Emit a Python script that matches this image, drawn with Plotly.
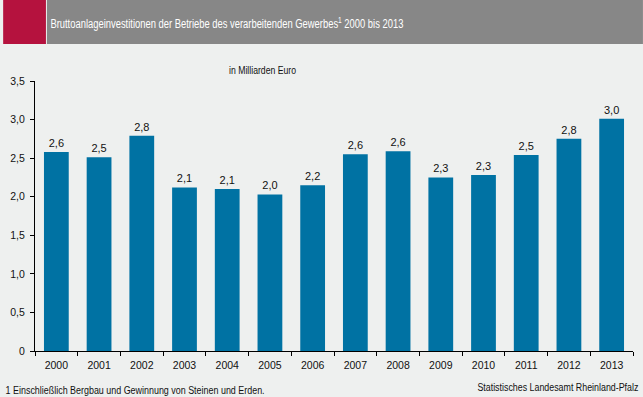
import plotly.graph_objects as go

years = ["2000", "2001", "2002", "2003", "2004", "2005", "2006",
         "2007", "2008", "2009", "2010", "2011", "2012", "2013"]
values = [2.58, 2.51, 2.79, 2.12, 2.10, 2.03, 2.15,
          2.55, 2.59, 2.25, 2.28, 2.54, 2.75, 3.01]
value_labels = ["2,6", "2,5", "2,8", "2,1", "2,1", "2,0", "2,2",
                "2,6", "2,6", "2,3", "2,3", "2,5", "2,8", "3,0"]
y_ticks = [0, 0.5, 1.0, 1.5, 2.0, 2.5, 3.0, 3.5]
y_ticktext = ["0", "0,5", "1,0", "1,5", "2,0", "2,5", "3,0", "3,5"]

W, H = 643, 397
L, R, T, B = 32, 10, 81, 46
pw, ph = W - L - R, H - T - B

def px(x):
    return (x - L) / pw

def py(y):
    return (H - B - y) / ph

reg = "Liberation Sans, Arial, sans-serif"

fig = go.Figure(go.Bar(
    x=years, y=values, text=value_labels, textposition="outside",
    textfont=dict(family=reg, size=11, color="#111111"),
    marker=dict(color="#0072a3", line=dict(width=0)),
    width=0.58, cliponaxis=False,
))

fig.update_layout(
    width=W, height=H,
    margin=dict(l=L, r=R, t=T, b=B),
    paper_bgcolor="#eef0ef", plot_bgcolor="#eef0ef",
    showlegend=False,
    xaxis=dict(type="category", showline=True, linecolor="black", linewidth=1,
               ticks="outside", ticklen=4, tickcolor="black", tickson="boundaries",
               ticklabelstandoff=4,
               tickfont=dict(family=reg, size=10.5, color="#111111"),
               showgrid=False, zeroline=False),
    yaxis=dict(range=[0, 3.5], tickvals=y_ticks, ticktext=y_ticktext,
               showline=True, linecolor="black", linewidth=1,
               ticks="outside", ticklen=4, tickcolor="black",
               ticklabelstandoff=3,
               tickfont=dict(family=reg, size=10.5, color="#111111"),
               showgrid=False, zeroline=False),
    shapes=[
        dict(type="rect", xref="paper", yref="paper", x0=px(0), x1=px(43),
             y0=py(44), y1=py(0), fillcolor="#b5123e", line=dict(width=0), layer="below"),
        dict(type="rect", xref="paper", yref="paper", x0=px(44), x1=px(643),
             y0=py(44), y1=py(0), fillcolor="#878787", line=dict(width=0), layer="below"),
    ],
    annotations=[
        dict(text="Bruttoanlageinvestitionen der Betriebe des verarbeitenden Gewerbes<sup>1</sup> 2000 bis 2013",
             xref="paper", yref="paper", x=px(224.5), y=py(23), xanchor="center", yanchor="middle",
             showarrow=False, font=dict(family=reg, size=12.5, color="white")),
        dict(text="in Milliarden Euro", xref="paper", yref="paper", x=px(261), y=py(70),
             xanchor="center", yanchor="middle", showarrow=False,
             font=dict(family=reg, size=10.5, color="#111111")),
        dict(text="1 Einschließlich Bergbau und Gewinnung von Steinen und Erden.",
             xref="paper", yref="paper", x=px(132.5), y=py(390), xanchor="center", yanchor="middle",
             showarrow=False, font=dict(family=reg, size=10, color="#111111")),
        dict(text="Statistisches Landesamt Rheinland-Pfalz",
             xref="paper", yref="paper", x=px(557.5), y=py(387), xanchor="center", yanchor="middle",
             showarrow=False, font=dict(family=reg, size=10, color="#111111")),
    ],
)

post = """
document.body.style.margin = '0';
document.body.style.overflow = 'hidden';
var gd = document.getElementById('{plot_id}');
var ts = gd.querySelectorAll('text.annotation-text');
var widths = [353, 67, 259, 161];
ts.forEach(function(t, i) {
  if (i < widths.length) {
    t.setAttribute('textLength', widths[i]);
    t.setAttribute('lengthAdjust', 'spacingAndGlyphs');
  }
});
"""

fig.write_html("out.html", post_script=post, config={"displayModeBar": False})
